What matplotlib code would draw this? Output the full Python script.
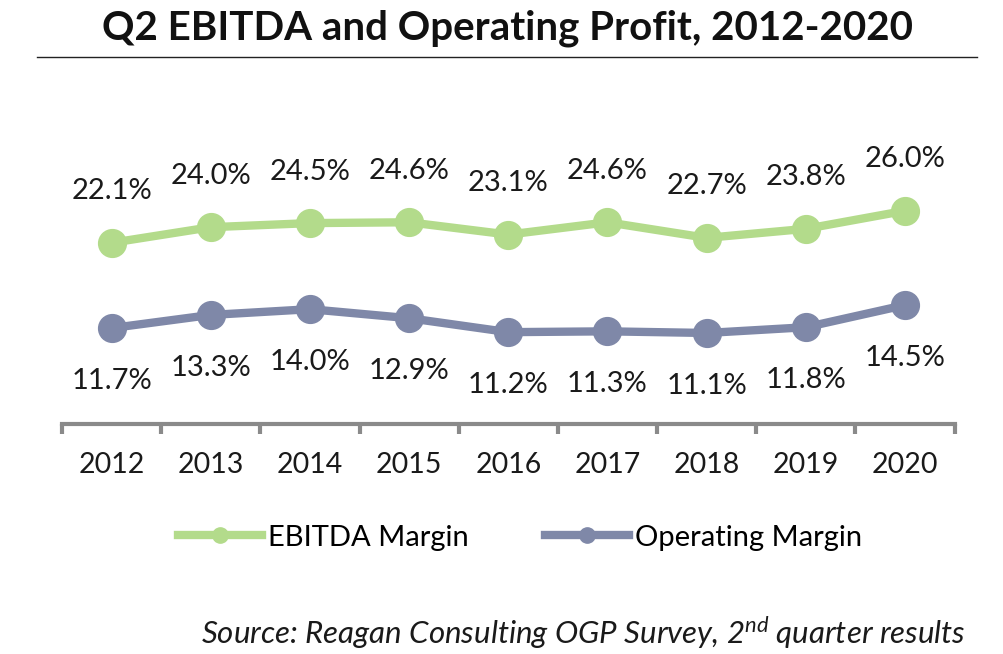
import matplotlib
matplotlib.use('Agg')
import matplotlib.pyplot as plt
from matplotlib.lines import Line2D

plt.rcParams['font.family'] = ['Lato', 'DejaVu Sans']
plt.rcParams['mathtext.fontset'] = 'custom'
plt.rcParams['mathtext.rm'] = 'Lato:italic'
plt.rcParams['mathtext.it'] = 'Lato:italic'

# data
years = ['2012', '2013', '2014', '2015', '2016', '2017', '2018', '2019', '2020']
ebitda = [22.1, 24.0, 24.5, 24.6, 23.1, 24.6, 22.7, 23.8, 26.0]
operating = [11.7, 13.3, 14.0, 12.9, 11.2, 11.3, 11.1, 11.8, 14.5]

green = '#b3db8b'
slate = '#7f88a8'
axis_gray = '#8a8a8a'

fig = plt.figure(figsize=(10.04, 6.54), dpi=100)
ax = fig.add_axes([0.0618, 0.3517, 0.889, 0.5015])

x = list(range(len(years)))
ax.plot(x, ebitda, color=green, lw=6, marker='o', ms=20, solid_capstyle='round')
ax.plot(x, operating, color=slate, lw=6, marker='o', ms=20, solid_capstyle='round')

for xi, v in zip(x, ebitda):
    ax.annotate(f'{v:.1f}%', (xi, v), xytext=(0, 37), textcoords='offset points',
                ha='center', va='center', fontsize=21, color='#1a1a1a')
for xi, v in zip(x, operating):
    ax.annotate(f'{v:.1f}%', (xi, v), xytext=(0, -38), textcoords='offset points',
                ha='center', va='center', fontsize=21, color='#1a1a1a')

ax.set_xlim(-0.5, len(years) - 0.5)
ax.set_ylim(0, 40)
for side in ['top', 'left', 'right']:
    ax.spines[side].set_visible(False)
ax.spines['bottom'].set_color(axis_gray)
ax.spines['bottom'].set_linewidth(3)
ax.set_yticks([])
ax.set_xticks([i - 0.5 for i in range(len(years) + 1)], minor=False)
ax.set_xticklabels([])
ax.tick_params(axis='x', which='major', length=7, width=3, color=axis_gray)
ax.set_xticks(x, minor=True)
ax.set_xticklabels(years, minor=True, fontsize=20.5, color='#1a1a1a')
ax.tick_params(axis='x', which='minor', length=0, pad=20)

# title and rule
fig.text(0.505, 0.957, 'Q2 EBITDA and Operating Profit, 2012-2020', ha='center', va='center',
         fontsize=29, fontweight='bold', color='#111111')
fig.add_artist(Line2D([0.037, 0.973], [0.913, 0.913], color='#222222', lw=1))

handles = [Line2D([], [], color=green, lw=6, marker='o', ms=11),
           Line2D([], [], color=slate, lw=6, marker='o', ms=11)]
fig.legend(handles, ['EBITDA Margin', 'Operating Margin'], loc='center',
           bbox_to_anchor=(0.518, 0.178), ncol=2, frameon=False, fontsize=21,
           handlelength=2.9, handletextpad=0.2, columnspacing=2.6)

fig.text(0.962, 0.032, r'Source: Reagan Consulting OGP Survey, 2$^{\mathrm{nd}}$ quarter results',
         ha='right', va='center', fontsize=22.5, style='italic', color='#1a1a1a')

fig.savefig('out.png', dpi=100)
